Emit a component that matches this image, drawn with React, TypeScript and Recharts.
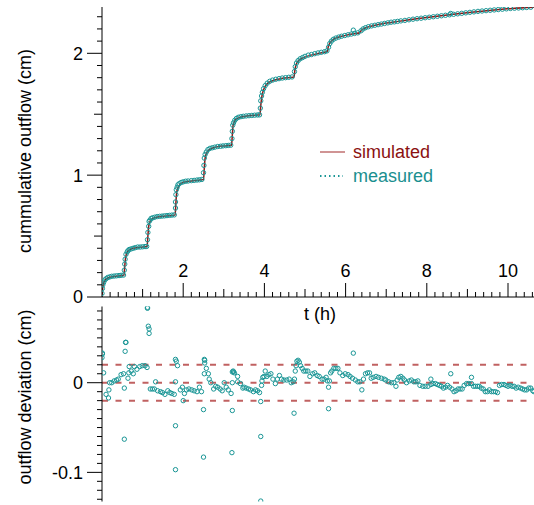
import React from "react";
import {
  ComposedChart,
  ScatterChart,
  Line,
  Scatter,
  XAxis,
  YAxis,
  ReferenceLine,
  Legend,
  Label,
} from "recharts";

const FONT = '"Liberation Sans", Arial, Helvetica, sans-serif';
const SIM_COLOR = "#8b1a1a";
const MEAS_COLOR = "#1a9696";

// simulated cumulative outflow, [t (h), cm]
const simulated: [number, number][] = [
  [0, 0], [0.02, 0.08], [0.04, 0.115], [0.08, 0.14], [0.15, 0.158], [0.3, 0.168], [0.54, 0.178],
  [0.56, 0.25], [0.58, 0.32], [0.62, 0.365], [0.68, 0.388], [0.78, 0.4], [0.95, 0.408], [1.11, 0.414],
  [1.13, 0.5], [1.15, 0.58], [1.19, 0.625], [1.26, 0.645], [1.38, 0.657], [1.58, 0.665], [1.8, 0.672],
  [1.82, 0.77], [1.84, 0.86], [1.89, 0.91], [1.97, 0.935], [2.1, 0.948], [2.3, 0.957], [2.5, 0.964],
  [2.52, 1.06], [2.54, 1.14], [2.59, 1.19], [2.67, 1.215], [2.8, 1.23], [3.0, 1.24], [3.19, 1.246],
  [3.21, 1.33], [3.23, 1.41], [3.28, 1.45], [3.36, 1.47], [3.5, 1.482], [3.7, 1.49], [3.89, 1.495],
  [3.91, 1.57], [3.94, 1.65], [3.99, 1.71], [4.07, 1.75], [4.2, 1.775], [4.45, 1.795], [4.73, 1.806],
  [4.75, 1.86], [4.79, 1.915], [4.86, 1.945], [4.97, 1.965], [5.15, 1.985], [5.35, 2.0], [5.55, 2.015],
  [5.57, 2.05], [5.62, 2.09], [5.7, 2.115], [5.82, 2.132], [6.0, 2.147], [6.2, 2.16], [6.35, 2.168],
  [6.38, 2.185], [6.45, 2.203], [6.56, 2.217], [6.75, 2.232], [7.0, 2.248], [7.3, 2.262],
  [7.7, 2.281], [8.1, 2.298], [8.6, 2.318], [9.1, 2.337], [9.6, 2.354], [10.1, 2.368], [10.64, 2.378],
];

// measured cumulative outflow, [t (h), cm]
const measured: [number, number][] = [
  [0, 0.03], [0.01, 0.07], [0.02, 0.1], [0.04, 0.12], [0.07, 0.14], [0.1, 0.15], [0.14, 0.16],
  [0.19, 0.165], [0.24, 0.17], [0.3, 0.172], [0.36, 0.174], [0.42, 0.176], [0.47, 0.178], [0.53, 0.18],
  [0.55, 0.22], [0.56, 0.27], [0.57, 0.31], [0.59, 0.35], [0.62, 0.37], [0.64, 0.38], [0.67, 0.39],
  [0.72, 0.395], [0.77, 0.4], [0.82, 0.405], [0.88, 0.41], [0.94, 0.41], [1.0, 0.412], [1.06, 0.414], [1.1, 0.415],
  [1.12, 0.47], [1.13, 0.53], [1.15, 0.58], [1.16, 0.62], [1.18, 0.63], [1.21, 0.645], [1.25, 0.65],
  [1.3, 0.655], [1.36, 0.66], [1.42, 0.662], [1.48, 0.664], [1.54, 0.666], [1.6, 0.668], [1.66, 0.67],
  [1.72, 0.672], [1.78, 0.674],
  [1.81, 0.73], [1.81, 0.78], [1.82, 0.84], [1.83, 0.88], [1.85, 0.9], [1.87, 0.92], [1.9, 0.93],
  [1.95, 0.94], [2.0, 0.945], [2.06, 0.95], [2.12, 0.952], [2.2, 0.955], [2.27, 0.957], [2.34, 0.96],
  [2.4, 0.962], [2.46, 0.965],
  [2.5, 1.02], [2.51, 1.08], [2.52, 1.14], [2.54, 1.17], [2.57, 1.19], [2.61, 1.21], [2.66, 1.22],
  [2.72, 1.225], [2.78, 1.23], [2.85, 1.235], [2.92, 1.237], [2.98, 1.24], [3.05, 1.242], [3.11, 1.244], [3.17, 1.246],
  [3.2, 1.3], [3.21, 1.36], [3.22, 1.41], [3.24, 1.43], [3.27, 1.45], [3.31, 1.465], [3.36, 1.475],
  [3.42, 1.48], [3.48, 1.483], [3.55, 1.486], [3.62, 1.488], [3.69, 1.49], [3.76, 1.492], [3.83, 1.494], [3.88, 1.495],
  [3.9, 1.55], [3.91, 1.61], [3.93, 1.65], [3.95, 1.68], [3.98, 1.71], [4.02, 1.735], [4.07, 1.755],
  [4.13, 1.77], [4.2, 1.78], [4.28, 1.787], [4.36, 1.792], [4.44, 1.797], [4.52, 1.8], [4.6, 1.803], [4.68, 1.806],
  [4.74, 1.85], [4.76, 1.89], [4.79, 1.92], [4.83, 1.94], [4.88, 1.955], [4.94, 1.965], [5.0, 1.975],
  [5.08, 1.985], [5.16, 1.99], [5.24, 1.997], [5.32, 2.003], [5.4, 2.008], [5.48, 2.013], [5.54, 2.02],
  [5.58, 2.05], [5.61, 2.08], [5.65, 2.1], [5.7, 2.115], [5.76, 2.125], [5.83, 2.133], [5.9, 2.14],
  [5.98, 2.146], [6.06, 2.152], [6.14, 2.158], [6.19, 2.19], [6.22, 2.163], [6.3, 2.168],
  [6.38, 2.185], [6.43, 2.2], [6.49, 2.21], [6.56, 2.218], [6.64, 2.225], [6.72, 2.23], [6.8, 2.235],
  [6.88, 2.24], [6.96, 2.245], [7.04, 2.25], [7.12, 2.255], [7.2, 2.258], [7.28, 2.262],
  [7.36, 2.266], [7.46, 2.27], [7.56, 2.275], [7.66, 2.28], [7.76, 2.284], [7.86, 2.288], [7.96, 2.292],
  [8.06, 2.296], [8.16, 2.3], [8.26, 2.304], [8.36, 2.308], [8.46, 2.312], [8.56, 2.316], [8.59, 2.327],
  [8.66, 2.32], [8.76, 2.324], [8.86, 2.328], [8.96, 2.332], [9.06, 2.336], [9.16, 2.34], [9.26, 2.344],
  [9.36, 2.347], [9.46, 2.35], [9.56, 2.353], [9.66, 2.356], [9.76, 2.359], [9.86, 2.362], [9.96, 2.365],
  [10.06, 2.368], [10.16, 2.37], [10.26, 2.372], [10.36, 2.374], [10.46, 2.376], [10.56, 2.378],
];

// measured minus simulated, [t (h), cm]
const deviation: [number, number][] = [
  [0.01, 0.033], [0.01, 0.032], [0.0, 0.028], [0.04, 0.011], [0.1, -0.013], [0.16, -0.017], [0.17, -0.008],
  [0.19, 0.0], [0.24, 0.0], [0.3, 0.002], [0.36, 0.003], [0.4, 0.004], [0.47, 0.009], [0.53, 0.01],
  [0.55, -0.006], [0.55, -0.063], [0.57, 0.035], [0.58, 0.045], [0.59, 0.045], [0.64, 0.005], [0.66, 0.011],
  [0.67, 0.018], [0.72, 0.013], [0.77, 0.01], [0.8, 0.018], [0.86, 0.015], [0.93, 0.018], [0.99, 0.019],
  [1.06, 0.019], [1.11, 0.017], [1.12, 0.084], [1.12, 0.083], [1.14, 0.063], [1.16, 0.06], [1.16, 0.055],
  [1.19, -0.007], [1.24, -0.007], [1.29, -0.007], [1.32, 0.001], [1.37, -0.009], [1.44, -0.01], [1.49, -0.011],
  [1.55, -0.013], [1.62, -0.009], [1.67, -0.011], [1.72, -0.012], [1.78, -0.013], [1.81, 0.026], [1.83, 0.024],
  [1.86, 0.019], [1.81, 0.001], [1.81, -0.048], [1.81, -0.097], [1.93, -0.008], [1.98, -0.005], [2.0, -0.02],
  [2.03, -0.012], [2.08, -0.008], [2.14, -0.007], [2.21, -0.008], [2.27, -0.009], [2.34, -0.01], [2.4, -0.005],
  [2.45, -0.01], [2.52, 0.026], [2.53, 0.025], [2.53, 0.022], [2.52, 0.01], [2.57, 0.016], [2.62, 0.01],
  [2.64, 0.004], [2.68, 0.0], [2.5, -0.03], [2.5, -0.083], [2.75, -0.007], [2.8, -0.004], [2.85, -0.005],
  [2.91, -0.007], [2.96, -0.009], [3.01, 0.0], [3.06, -0.005], [3.11, -0.008], [3.18, -0.012], [3.21, 0.012],
  [3.23, 0.013], [3.24, 0.012], [3.26, 0.011], [3.21, 0.0], [3.21, -0.031], [3.2, -0.078], [3.34, 0.007],
  [3.34, 0.001], [3.41, -0.001], [3.47, -0.006],
  [3.5, -0.005], [3.55, -0.006], [3.61, -0.007], [3.66, -0.008], [3.73, -0.01], [3.78, -0.008], [3.83, -0.009],
  [3.88, -0.011], [3.91, -0.021], [3.91, -0.06], [3.91, -0.132], [3.93, -0.003], [3.94, 0.002], [3.96, 0.006],
  [3.99, 0.007], [4.02, 0.013], [4.06, 0.007], [4.11, 0.009], [4.16, 0.01], [4.21, 0.004], [4.27, -0.001],
  [4.32, 0.004], [4.37, 0.008], [4.42, 0.004], [4.48, 0.003], [4.55, 0.003], [4.61, 0.004], [4.66, 0.0],
  [4.71, 0.001], [4.74, 0.004], [4.73, -0.034], [4.76, 0.013], [4.78, 0.019], [4.8, 0.024], [4.83, 0.025],
  [4.86, 0.023], [4.89, 0.019], [4.93, 0.016], [4.97, 0.013], [5.02, 0.013], [5.07, 0.013], [5.12, 0.007],
  [5.19, 0.01], [5.24, 0.011], [5.3, 0.008], [5.35, 0.007], [5.42, 0.004], [5.47, 0.004], [5.52, 0.006],
  [5.55, 0.002], [5.58, -0.005], [5.6, 0.002], [5.63, 0.011], [5.66, 0.013], [5.71, 0.016], [5.76, 0.016],
  [5.81, 0.016], [5.58, -0.029], [5.86, 0.011], [5.93, 0.008], [5.99, 0.01], [6.06, 0.009], [6.11, 0.007],
  [6.17, 0.005], [6.24, 0.003], [6.3, 0.001], [6.35, 0.001], [6.4, -0.008], [6.44, 0.004], [6.49, 0.01],
  [6.54, 0.011], [6.59, 0.011], [6.19, 0.033], [6.63, 0.005], [6.68, 0.006], [6.75, 0.007], [6.81, 0.006],
  [6.88, 0.005],
  [6.95, 0.004], [6.99, 0.003], [7.06, 0.001], [7.13, 0.0], [7.19, 0.0], [7.24, -0.004], [7.27, 0.003],
  [7.31, 0.006], [7.36, 0.007], [7.41, 0.005], [7.45, 0.003], [7.5, 0.0], [7.57, 0.002], [7.62, 0.003],
  [7.68, 0.001], [7.73, 0.001], [7.78, 0.002], [7.83, -0.003], [7.9, -0.004], [7.96, -0.004], [8.03, -0.004],
  [8.1, -0.002], [8.15, -0.001], [8.21, -0.001], [8.26, -0.002], [8.31, -0.003], [8.36, -0.004], [8.41, -0.006],
  [8.46, -0.005], [8.51, -0.003], [8.56, -0.005], [8.62, -0.007], [8.67, -0.01], [8.72, -0.009], [8.77, -0.007],
  [8.82, -0.007], [8.87, -0.007], [8.92, -0.003], [8.98, -0.001], [9.03, -0.001], [9.1, -0.001], [9.15, -0.004],
  [9.2, -0.004], [9.25, -0.004], [9.29, -0.004], [9.34, -0.006], [9.39, -0.007], [9.44, -0.01], [9.49, -0.01],
  [9.54, -0.008], [9.59, -0.01], [9.64, -0.01], [9.69, -0.01], [9.74, -0.011], [8.1, 0.004], [8.59, 0.01],
  [9.1, 0.006], [9.79, -0.003], [9.84, -0.002], [9.9, -0.002], [9.95, -0.003], [10.0, -0.004], [10.05, -0.003],
  [10.1, -0.004], [10.15, -0.004], [10.2, -0.006], [10.25, -0.005], [10.31, -0.006], [10.36, -0.007],
  [10.41, -0.008], [10.46, -0.008], [10.51, -0.006], [10.56, -0.006], [10.61, -0.009], [10.64, -0.01],
];

const devBands = [0.02, 0, -0.02];

const xLabels = [2, 4, 6, 8, 10];
const outflowLabels = [0, 1, 2];
const deviationLabels = [0, -0.1];

const X_MAX = 10.64;

const steps = (from: number, to: number, step: number) => {
  const out: number[] = [];
  for (let k = Math.round(from / step); k <= Math.round(to / step); k++) {
    out.push(+(k * step).toFixed(4));
  }
  return out;
};
const xTicks = steps(0.2, 10.6, 0.2);
const outflowTicks = steps(0, 2.3, 0.1);
const deviationTicks = steps(-0.13, 0.08, 0.01);

const near = (a: number, b: number) => Math.abs(a - b) < 1e-6;
const toRows = (pts: [number, number][]) => pts.map(([t, v]) => ({ t, v }));

const textStyle = { fontFamily: FONT, fontSize: 18, fill: "#000" };

const renderXTick = (props: any) => {
  const { x, y, payload } = props;
  const v = payload.value as number;
  const labelled = xLabels.some((l) => near(l, v));
  const whole = near(v, Math.round(v));
  const len = labelled ? 14 : whole ? 8 : 5;
  return (
    <g>
      <line x1={x} x2={x} y1={y} y2={y - len} stroke="#000" />
      {labelled && (
        <text x={x} y={y - 20} textAnchor="middle" {...textStyle}>
          {v}
        </text>
      )}
    </g>
  );
};

const makeYTick = (labels: number[], halfStep: number | null) => (props: any) => {
  const { x, y, payload } = props;
  const v = payload.value as number;
  const labelled = labels.some((l) => near(l, v));
  const half = halfStep !== null && near(v / halfStep, Math.round(v / halfStep));
  const len = labelled ? 15 : half ? 8 : 5;
  return (
    <g>
      <line x1={x} x2={x - len} y1={y} y2={y} stroke="#000" />
      {labelled && (
        <text x={x - 19} y={y} dy="0.36em" textAnchor="end" {...textStyle}>
          {v}
        </text>
      )}
    </g>
  );
};

const Ring = (props: any) => (
  <circle cx={props.cx} cy={props.cy} r={2.2} fill="none" stroke={MEAS_COLOR} strokeWidth={1} />
);

const LegendBox = () => (
  <div style={{ fontFamily: FONT, fontSize: 18, lineHeight: "24px" }}>
    <div style={{ display: "flex", alignItems: "center", height: 24 }}>
      <svg width={35} height={24}>
        <line x1={2} x2={27} y1={12} y2={12} stroke="#c07070" strokeWidth={1.5} />
      </svg>
      <span style={{ color: "#8b1111" }}>simulated</span>
    </div>
    <div style={{ display: "flex", alignItems: "center", height: 24 }}>
      <svg width={35} height={24}>
        <line x1={2} x2={25} y1={12} y2={12} stroke={MEAS_COLOR} strokeWidth={2} strokeDasharray="1.5 3" />
      </svg>
      <span style={{ color: "#1a8f8f" }}>measured</span>
    </div>
  </div>
);

const rotatedTitle = (text: string, cx: number, cy: number) => () => (
  <text
    x={cx}
    y={cy}
    transform={`rotate(-90 ${cx} ${cy})`}
    textAnchor="middle"
    dominantBaseline="central"
    {...textStyle}
  >
    {text}
  </text>
);

export default function App() {
  return (
    <div style={{ position: "absolute", left: 0, top: 0, width: 534, height: 505, background: "#fff" }}>
      <div style={{ position: "absolute", left: 0, top: 0 }}>
        <ComposedChart width={534} height={325} margin={{ top: 7, right: 0, bottom: 0, left: 0 }}>
          <XAxis
            type="number"
            dataKey="t"
            domain={[0, X_MAX]}
            allowDataOverflow
            ticks={xTicks}
            interval={0}
            tick={renderXTick}
            tickLine={false}
            tickSize={0}
            tickMargin={0}
            height={28}
            axisLine={{ stroke: "#000" }}
          >
            <Label
              content={() => (
                <text x={320} y={320} textAnchor="middle" {...textStyle}>
                  t (h)
                </text>
              )}
            />
          </XAxis>
          <YAxis
            type="number"
            dataKey="v"
            domain={[0, 2.38]}
            allowDataOverflow
            ticks={outflowTicks}
            interval={0}
            tick={makeYTick(outflowLabels, 0.5)}
            tickLine={false}
            tickSize={0}
            tickMargin={0}
            width={102}
            axisLine={{ stroke: "#000" }}
          >
            <Label content={rotatedTitle("cummulative outflow (cm)", 25, 151)} />
          </YAxis>
          <Legend
            layout="horizontal"
            verticalAlign="middle"
            align="center"
            content={LegendBox}
            wrapperStyle={{ position: "absolute", left: 318, top: 140, width: "auto" }}
          />
          <Scatter name="measured" data={toRows(measured)} dataKey="v" shape={Ring} isAnimationActive={false} />
          <Line
            name="simulated"
            data={toRows(simulated)}
            dataKey="v"
            type="monotone"
            stroke={SIM_COLOR}
            strokeWidth={1.5}
            dot={false}
            isAnimationActive={false}
          />
        </ComposedChart>
      </div>
      <div style={{ position: "absolute", left: 0, top: 300 }}>
        <ScatterChart width={534} height={205} margin={{ top: 6.5, right: 0, bottom: 3.5, left: 0 }}>
          <XAxis type="number" dataKey="t" domain={[0, X_MAX]} allowDataOverflow hide />
          <YAxis
            type="number"
            dataKey="v"
            domain={[-0.1325, 0.085]}
            allowDataOverflow
            ticks={deviationTicks}
            interval={0}
            tick={makeYTick(deviationLabels, null)}
            tickLine={false}
            tickSize={0}
            tickMargin={0}
            width={102}
            axisLine={{ stroke: "#000" }}
          >
            <Label content={rotatedTitle("outflow deviation (cm)", 25, 97)} />
          </YAxis>
          {devBands.map((b) => (
            <ReferenceLine
              key={b}
              y={b}
              stroke="#b03a3a"
              strokeOpacity={0.8}
              strokeWidth={2}
              strokeDasharray="6 7.5"
            />
          ))}
          <Scatter data={toRows(deviation)} dataKey="v" shape={Ring} isAnimationActive={false} />
        </ScatterChart>
      </div>
    </div>
  );
}
